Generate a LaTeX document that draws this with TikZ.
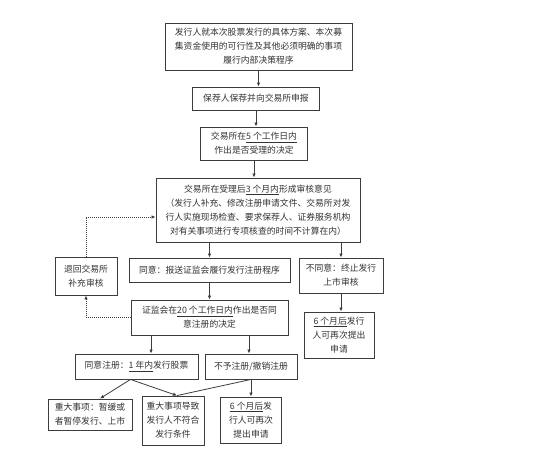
\documentclass[tikz,border=0pt]{standalone}
\usepackage{fontspec}
\setmainfont{Noto Sans CJK SC}
\usepackage{tikz}
\usetikzlibrary{arrows.meta, calc}
\definecolor{boxline}{RGB}{60, 60, 60}

\begin{document}
\begin{tikzpicture}[
    x=1pt, y=-1pt,
    stage/.style={rectangle, draw=boxline, line width=0.9pt, fill=white,
                  inner sep=2pt, align=center,
                  font=\fontsize{8.8}{14}\selectfont, text=black!80},
    flow/.style={-{Latex[length=4pt, width=3.5pt]}, line width=0.8pt, boxline},
    back/.style={flow, dash pattern=on 1pt off 1pt}
]
    \useasboundingbox (0, 0) rectangle (547, 460);

    % Main line
    \node[stage, minimum width=187pt, minimum height=47pt] (apply) at (258.5, 46.5)
        {发行人就本次股票发行的具体方案、本次募\\集资金使用的可行性及其他必须明确的事项\\履行内部决策程序};
    \node[stage, minimum width=127pt, minimum height=23pt] (report) at (256, 98.5)
        {保荐人保荐并向交易所申报};
    \node[stage, minimum width=107pt, minimum height=33pt] (accept) at (254, 143.5)
        {交易所在\underline{5 个工作日内}\\作出是否受理的决定};
    \node[stage, minimum width=204pt, minimum height=64pt] (review) at (258, 210)
        {交易所在受理后\underline{3 个月内}形成审核意见\\（发行人补充、修改注册申请文件、交易所对发\\行人实施现场检查、要求保荐人、证券服务机构\\对有关事项进行专项核查的时间不计算在内）};

    % Review outcomes
    \node[stage, minimum width=62pt, minimum height=38pt] (retreat) at (86, 276)
        {退回交易所\\补充审核};
    \node[stage, minimum width=161pt, minimum height=24pt] (agree) at (209.5, 270)
        {同意：报送证监会履行发行注册程序};
    \node[stage, minimum width=84pt, minimum height=35pt] (refuse) at (341, 275.5)
        {不同意：终止发行\\上市审核};
    \node[stage, minimum width=157pt, minimum height=35pt] (csrc) at (209.5, 317.5)
        {证监会在\underline{20 个工作日内}作出是否同\\意注册的决定};
    \node[stage, minimum width=70pt, minimum height=46pt] (retry) at (339, 335)
        {\underline{6 个月后}发行\\人可再次提出\\申请};

    % Registration outcomes
    \node[stage, minimum width=123pt, minimum height=25pt] (regok) at (136.5, 366.5)
        {同意注册：\underline{1 年内}发行股票};
    \node[stage, minimum width=92pt, minimum height=25pt] (regno) at (251, 366.5)
        {不予注册/撤销注册};
    \node[stage, minimum width=84pt, minimum height=31pt] (pause) at (90, 414.5)
        {重大事项：暂缓或\\者暂停发行、上市};
    \node[stage, minimum width=62pt, minimum height=49pt] (unfit) at (173, 420.5)
        {重大事项导致\\发行人不符合\\发行条件};
    \node[stage, minimum width=61pt, minimum height=46pt] (retry2) at (251, 420)
        {\underline{6 个月后}发\\行人可再次\\提出申请};

    % Arrows
    \draw[flow] (apply.south) -- (apply.south |- report.north);
    \draw[flow] (report.south) -- (report.south |- accept.north);
    \draw[flow] (accept.south) -- (accept.south |- review.north);
    \draw[flow] (agree.north |- review.south) -- (agree.north);
    \draw[flow] (refuse.north |- review.south) -- (refuse.north);
    \draw[flow] (agree.south) -- (csrc.north);
    \draw[flow] (refuse.south) -- (refuse.south |- retry.north);
    \draw[flow] ($(csrc.south west)!0.13!(csrc.south east)$) coordinate (c1) -- (c1 |- regok.north);
    \draw[flow] ($(csrc.south west)!0.75!(csrc.south east)$) coordinate (c2) -- (c2 |- regno.north);
    \draw[back] (csrc.west) -| (retreat.south);
    \draw[back] (retreat.north) |- ([yshift=-7pt]review.west);

    \coordinate (split) at ([xshift=-6pt]regok.south);
    \draw[flow] (split) -- ([xshift=10pt]pause.north);
    \draw[flow] (split) -- ([xshift=4pt]unfit.north);
    \draw[line width=0.8pt, boxline] (regno.south) -- ([xshift=4pt]unfit.north);
    \draw[flow] (regno.south) -- (regno.south |- retry2.north);
\end{tikzpicture}
\end{document}
